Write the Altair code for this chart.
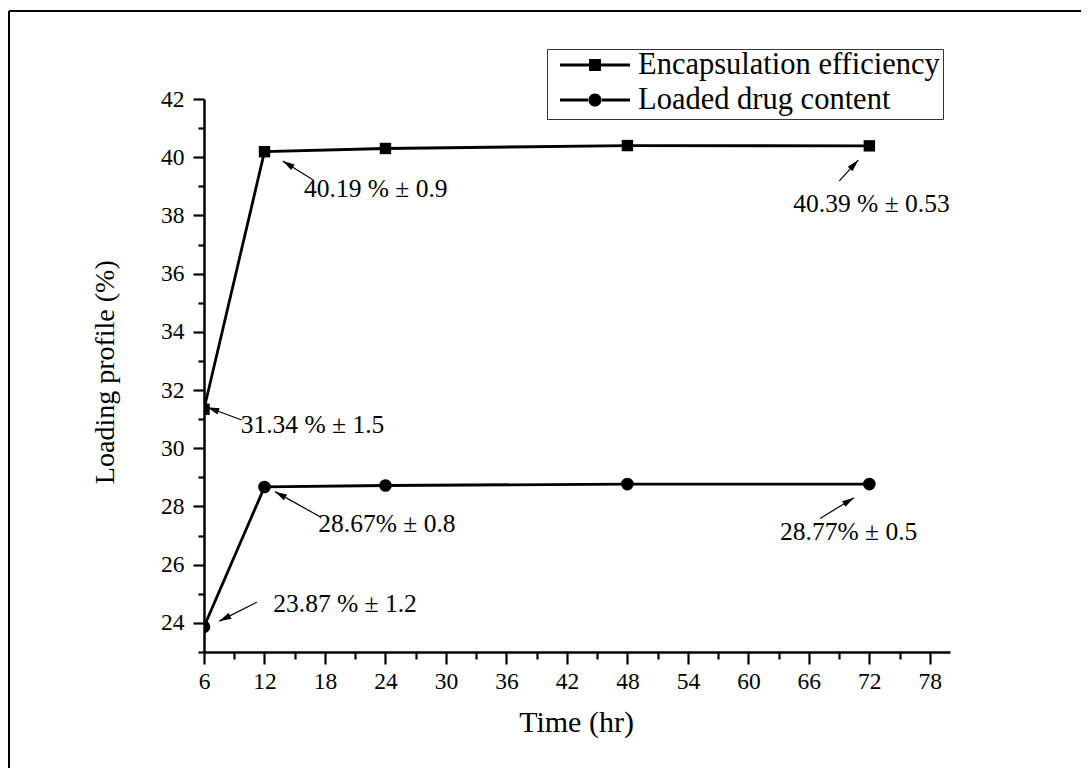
import math
import altair as alt
import pandas as pd

# ---------------- data ----------------
time_h = [6, 12, 24, 48, 72]
enc_eff = [31.34, 40.19, 40.30, 40.40, 40.39]
drug_content = [23.87, 28.67, 28.72, 28.77, 28.77]
series_names = ["Encapsulation efficiency", "Loaded drug content"]

ann_text = ["40.19 % \u00b1 0.9", "31.34 % \u00b1 1.5", "28.67% \u00b1 0.8",
            "23.87 % \u00b1 1.2", "40.39 % \u00b1 0.53", "28.77% \u00b1 0.5"]
ann_text_x = [15.92, 9.64, 17.34, 12.87, 64.46, 63.14]
ann_text_y = [38.64, 30.535, 27.133, 24.364, 38.128, 26.848]
arrow_tail_x = [16.84, 9.74, 17.51, 11.23, 69.02, 67.11]
arrow_tail_y = [39.22, 30.97, 27.65, 24.71, 39.19, 27.59]
arrow_head_x = [13.81, 6.33, 13.04, 7.52, 70.90, 70.48]
arrow_head_y = [39.87, 31.41, 28.51, 24.06, 39.90, 28.30]

x_ticks = list(range(6, 79, 3))
y_ticks = list(range(23, 43))

# ---------------- layout / style ----------------
W, H = 746, 553
X_DOMAIN = [6, 80]
Y_DOMAIN = [23, 42]
FONT = "Liberation Serif"
px_x = W / (X_DOMAIN[1] - X_DOMAIN[0])
px_y = H / (Y_DOMAIN[1] - Y_DOMAIN[0])

df = pd.DataFrame({
    "time": time_h * 2,
    "value": enc_eff + drug_content,
    "series": [series_names[0]] * len(time_h) + [series_names[1]] * len(time_h),
})

angles = []
for tx, ty, hx, hy in zip(arrow_tail_x, arrow_tail_y, arrow_head_x, arrow_head_y):
    dx = (hx - tx) * px_x
    dy = -(hy - ty) * px_y
    angles.append(math.degrees(math.atan2(dx, -dy)) % 360)

ann = pd.DataFrame({
    "text": ann_text, "tx": ann_text_x, "ty": ann_text_y,
    "x1": arrow_tail_x, "y1": arrow_tail_y,
    "x2": arrow_head_x, "y2": arrow_head_y, "angle": angles,
})

xscale = alt.Scale(domain=X_DOMAIN, nice=False, zero=False)
yscale = alt.Scale(domain=Y_DOMAIN, nice=False, zero=False)

x_axis = alt.Axis(
    values=x_ticks,
    labelExpr="datum.value % 6 === 0 ? datum.label : ''",
    tickSize={"condition": {"test": "datum.value % 6 === 0", "value": 12}, "value": 7},
    tickWidth=2.2, tickColor="black",
    domainWidth=2.5, domainColor="black",
    labelFont=FONT, labelFontSize=23.5, labelColor="black",
    labelBaseline="alphabetic", labelPadding=24, labelFlush=False, labelOverlap=False,
    grid=False,
    title="Time (hr)", titleFont=FONT, titleFontSize=30, titleFontWeight="normal",
    titleColor="black", titleX=372, titleY=79.7, titleBaseline="alphabetic", titleAlign="center",
)
y_axis = alt.Axis(
    values=y_ticks,
    labelExpr="datum.value % 2 === 0 ? datum.label : ''",
    tickSize={"condition": {"test": "datum.value % 2 === 0", "value": 11}, "value": 6},
    tickWidth=2.2, tickColor="black",
    domainWidth=2.5, domainColor="black",
    labelFont=FONT, labelFontSize=23.5, labelColor="black",
    labelPadding=9, labelFlush=False, labelOverlap=False,
    grid=False,
    title="Loading profile (%)", titleFont=FONT, titleFontSize=28, titleFontWeight="normal",
    titleColor="black", titleX=-90.5, titleY=272.7, titleAngle=270,
    titleBaseline="alphabetic", titleAlign="center",
)


def X(field):
    return alt.X(field, type="quantitative", scale=xscale, axis=x_axis)


def Y(field):
    return alt.Y(field, type="quantitative", scale=yscale, axis=y_axis)


base = alt.Chart(df)

lines = base.mark_line(color="black", strokeWidth=2.8, clip=True).encode(
    x=X("time"), y=Y("value"), detail="series:N",
)

pts_sq = base.transform_filter(
    alt.datum.series == series_names[0]
).mark_point(shape="square", filled=True, color="black", opacity=1, size=130, clip=True).encode(
    x=X("time"), y=Y("value"))

pts_ci = base.transform_filter(
    alt.datum.series == series_names[1]
).mark_point(shape="circle", filled=True, color="black", opacity=1, size=160, clip=True).encode(
    x=X("time"), y=Y("value"))

# legend carrier (no visible data) with line+marker symbols
sq_path = ("M-1,-0.043H-0.17V0.043H-1Z M0.17,-0.043H1V0.043H0.17Z "
           "M-0.17,-0.17H0.17V0.17H-0.17Z")
ci_path = ("M-1,-0.043H-0.17V0.043H-1Z M0.17,-0.043H1V0.043H0.17Z "
           "M-0.186,0A0.186,0.186 0 1,0 0.186,0A0.186,0.186 0 1,0 -0.186,0Z")
legend_layer = base.transform_filter("false").mark_point(
    filled=True, color="black", opacity=1
).encode(
    x=X("time"), y=Y("value"),
    shape=alt.Shape(
        "series:N",
        scale=alt.Scale(domain=series_names, range=[sq_path, ci_path]),
        legend=alt.Legend(
            orient="none", legendX=343, legendY=-50, title=None,
            symbolSize=4900, clipHeight=26, rowPadding=4, padding=3,
            symbolOffset=10, labelOffset=8,
            labelFont=FONT, labelFontSize=30.5, labelColor="black", labelLimit=0,
            strokeColor="#333333", symbolFillColor="black", symbolStrokeWidth=0,
        ),
    ),
)

ann_base = alt.Chart(ann)
arrows = ann_base.mark_rule(color="black", strokeWidth=1.2).encode(
    x=X("x1"), y=Y("y1"), x2="x2:Q", y2="y2:Q")
heads = ann_base.mark_point(
    shape="M0,0L0.55,2L-0.55,2Z", filled=True, color="black", opacity=1, size=144
).encode(x=X("x2"), y=Y("y2"), angle=alt.Angle("angle:Q", scale=None))
texts = ann_base.mark_text(
    font=FONT, fontSize=25.5, align="left", baseline="alphabetic", color="black"
).encode(x=X("tx"), y=Y("ty"), text="text:N")

border_left = base.mark_rule(color="black", strokeWidth=1.5).encode(
    x=alt.value(-195), y=alt.value(-88), y2=alt.value(H + 116))
border_top = base.mark_rule(color="black", strokeWidth=2).encode(
    x=alt.value(-195), x2=alt.value(W + 131), y=alt.value(-88))

chart = alt.layer(
    lines, pts_sq, pts_ci, arrows, heads, texts, legend_layer, border_left, border_top
).properties(
    width=W, height=H,
    padding={"left": 196, "top": 91, "right": 131, "bottom": 116},
    autosize=alt.AutoSizeParams(type="none"),
    background="white",
).configure_view(stroke=None).configure_axis(
    labelFont=FONT, titleFont=FONT, labelColor="black", titleColor="black"
).configure_text(font=FONT)

chart.save("out.html", embed_options={"renderer": "svg", "actions": False})
